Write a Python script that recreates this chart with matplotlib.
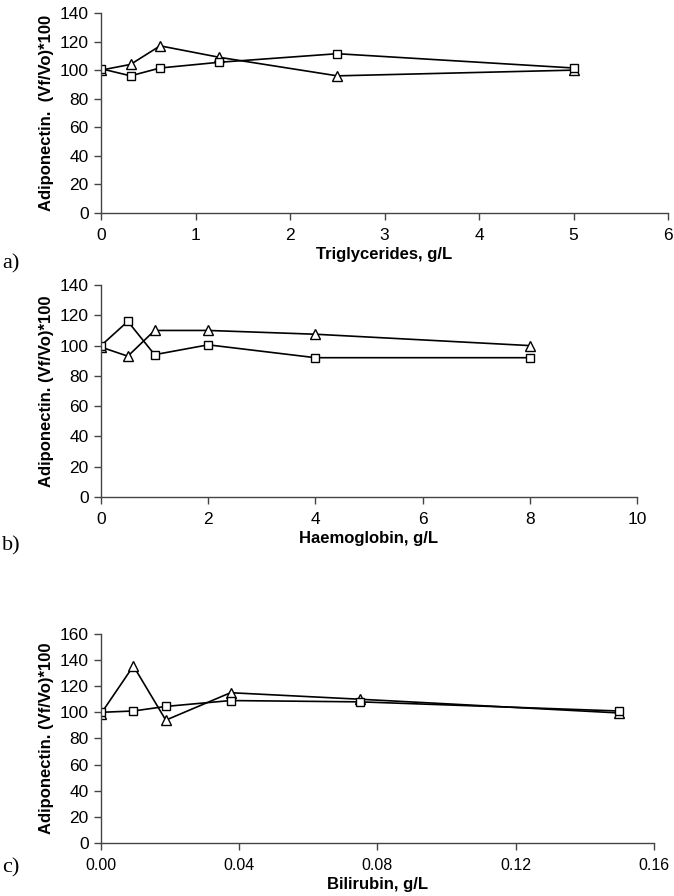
import matplotlib
matplotlib.use("Agg")
import matplotlib.pyplot as plt

# panel a - triglycerides
trig_x = [0, 0.3125, 0.625, 1.25, 2.5, 5]
trig_tri = [100, 104, 117, 109, 96, 100]
trig_sq = [101, 96, 101.5, 105.5, 111.5, 101.5]

# panel b - haemoglobin
hb_x = [0, 0.5, 1, 2, 4, 8]
hb_tri = [99, 93, 110, 110, 107.5, 100]
hb_sq = [100, 116, 94, 100.5, 92, 92]

# panel c - bilirubin
bil_x = [0, 0.009375, 0.01875, 0.0375, 0.075, 0.15]
bil_tri = [99, 135.5, 94, 115, 110, 99.5]
bil_sq = [100, 101, 104.5, 109, 108, 101]

sans = ['Liberation Sans', 'DejaVu Sans']
serif = ['Liberation Serif', 'DejaVu Serif']

fig = plt.figure(figsize=(6.74, 8.96), dpi=100)


def panel(rect, x, tri, sq, xlim, xticks, xfmt, ylim, yticks, xlabel, ylabel, letter, letter_y,
          xtick_size=12.5):
    ax = fig.add_axes(rect)
    ax.plot(x, tri, color='black', lw=1.2, marker='^', ms=7, mfc='white', mec='black', mew=1.0)
    ax.plot(x, sq, color='black', lw=1.2, marker='s', ms=6, mfc='white', mec='black', mew=1.0)
    ax.set_xlim(*xlim)
    ax.set_ylim(*ylim)
    ax.set_xticks(xticks)
    ax.set_xticklabels([xfmt.format(t) for t in xticks], family=sans, fontsize=xtick_size)
    ax.set_yticks(yticks)
    ax.set_yticklabels([str(t) for t in yticks], family=sans, fontsize=12.5)
    for s in ['top', 'right']:
        ax.spines[s].set_visible(False)
    for s in ['left', 'bottom']:
        ax.spines[s].set_color('#444444')
        ax.spines[s].set_linewidth(1.0)
    ax.tick_params(direction='out', length=5, width=1.0, color='#444444')
    ax.tick_params(axis='x', pad=6)
    ax.tick_params(axis='y', pad=4)
    ax.set_xlabel(xlabel, family=sans, fontweight='bold', fontsize=12, labelpad=3)
    ax.set_ylabel(ylabel, family=sans, fontweight='bold', fontsize=12, labelpad=4)
    fig.text(0.003, letter_y, letter, family=serif, fontsize=16, va='center', ha='left')
    return ax


panel([0.1499, 0.7623, 0.8412, 0.2232], trig_x, trig_tri, trig_sq,
      (0, 6), [0, 1, 2, 3, 4, 5, 6], '{:g}', (0, 140), list(range(0, 141, 20)),
      'Triglycerides, g/L', 'Adiponectin.  (Vf/Vo)*100', 'a)', 1 - 264 / 896)

panel([0.1499, 0.4453, 0.795, 0.2366], hb_x, hb_tri, hb_sq,
      (0, 10), [0, 2, 4, 6, 8, 10], '{:g}', (0, 140), list(range(0, 141, 20)),
      'Haemoglobin, g/L', 'Adiponectin. (Vf/Vo)*100', 'b)', 1 - 546 / 896)

panel([0.1499, 0.0592, 0.82, 0.2333], bil_x, bil_tri, bil_sq,
      (0, 0.16), [0, 0.04, 0.08, 0.12, 0.16], '{:.2f}', (0, 160), list(range(0, 161, 20)),
      'Bilirubin, g/L', 'Adiponectin. (Vf/Vo)*100', 'c)', 1 - 868 / 896, xtick_size=11.5)

fig.savefig('out.png', dpi=100)
